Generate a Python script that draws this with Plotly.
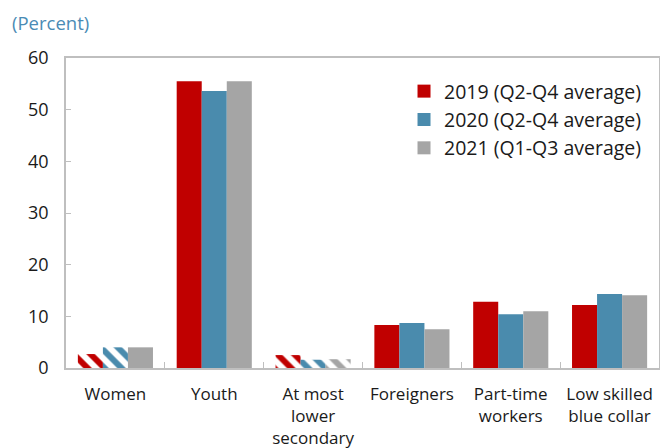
import plotly.graph_objects as go

categories = ["Women", "Youth", "At most<br>lower<br>secondary", "Foreigners",
              "Part-time<br>workers", "Low skilled<br>blue collar"]
series_names = ["2019 (Q2-Q4 average)", "2020 (Q2-Q4 average)", "2021 (Q1-Q3 average)"]
values_2019 = [2.7, 55.5, 2.5, 8.3, 12.8, 12.2]
values_2020 = [4.0, 53.6, 1.6, 8.7, 10.4, 14.3]
values_2021 = [4.0, 55.5, 1.7, 7.5, 11.0, 14.1]
# bars drawn with a diagonal hatch (preliminary / less reliable estimates)
hatch_2019 = [True, False, True, False, False, False]
hatch_2020 = [True, False, True, False, False, False]
hatch_2021 = [False, False, True, False, False, False]
colors = ["#C00000", "#4A8BAD", "#A5A5A5"]
y_ticks = [0, 10, 20, 30, 40, 50, 60]

FONT = "Open Sans"
fig = go.Figure()
for name, vals, hatch, col in zip(series_names,
                                  [values_2019, values_2020, values_2021],
                                  [hatch_2019, hatch_2020, hatch_2021], colors):
    fig.add_trace(go.Bar(
        x=categories, y=vals, name=name, showlegend=False,
        marker=dict(
            color=col, line=dict(width=0),
            pattern=dict(shape=["\\" if h else "" for h in hatch],
                         fgcolor=col, bgcolor="white",
                         size=12, solidity=0.5, fillmode="replace"),
        ),
    ))

# solid square keys for the legend
for name, col in zip(series_names, colors):
    fig.add_trace(go.Scatter(
        x=[None], y=[None], mode="markers", name=name,
        marker=dict(symbol="square", size=13, color=col),
    ))

fig.update_layout(
    width=660, height=448,
    margin=dict(l=66, r=1, t=58, b=80, autoexpand=False),
    paper_bgcolor="white", plot_bgcolor="white",
    font=dict(family=FONT, size=17, color="#1a1a1a"),
    barmode="group", bargap=0.24, bargroupgap=0,
    showlegend=True,
    legend=dict(x=0.570, y=0.955, xanchor="left", yanchor="top",
                bgcolor="rgba(0,0,0,0)", font=dict(size=19.5, family=FONT),
                itemwidth=30, tracegroupgap=0),
    annotations=[dict(text="(Percent)", xref="paper", yref="paper",
                      x=-0.094, y=1.116, xanchor="left", yanchor="middle",
                      showarrow=False, font=dict(size=18.5, color="#4A8BB5", family=FONT))],
)
fig.update_xaxes(
    automargin=False,
    showline=True, linecolor="#BFBFBF", linewidth=1.5, mirror=True,
    ticks="inside", tickson="boundaries", ticklen=6, tickcolor="#BFBFBF",
    tickfont=dict(size=17), showgrid=False, ticklabelstandoff=10,
)
fig.update_yaxes(
    automargin=False,
    range=[0, 60], tickvals=y_ticks, showgrid=False,
    showline=True, linecolor="#BFBFBF", linewidth=1.5, mirror=True,
    ticks="inside", ticklen=5, tickcolor="#BFBFBF",
    tickfont=dict(size=18), ticklabelstandoff=12,
)
fig.write_html("out.html")
